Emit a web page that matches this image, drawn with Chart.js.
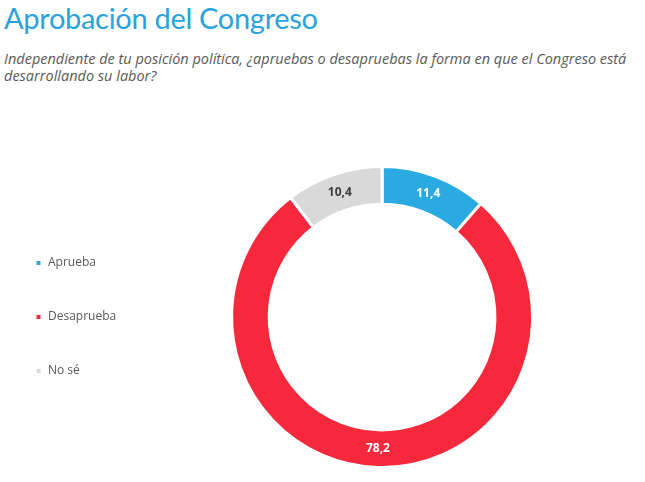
<!DOCTYPE html>
<html>
<head>
<meta charset="utf-8">
<script src="https://cdn.jsdelivr.net/npm/chart.js@4.4.0/dist/chart.umd.min.js"></script>
<style>
  html, body { margin: 0; padding: 0; background: #fff; }
  body { width: 645px; height: 482px; position: relative; overflow: hidden; }
  .title {
    position: absolute; left: 4px; top: 0px;
    font-family: Lato, sans-serif; font-size: 29px; color: #29a3db;
    letter-spacing: -0.3px;
  }
  .subtitle {
    position: absolute; left: 4px; top: 50px;
    font-family: "Open Sans", sans-serif; font-style: italic; font-size: 14.5px;
    line-height: 17px; color: #595959;
  }
  #wrap { position: absolute; left: 0; top: 0; width: 645px; height: 482px; }
</style>
</head>
<body>
<div class="title">Aprobación del Congreso</div>
<div class="subtitle">Independiente de tu posición política, ¿apruebas o desapruebas la forma en que el Congreso está<br>desarrollando su labor?</div>
<div id="wrap"><canvas id="chart"></canvas></div>
<script>
const categories = ['Aprueba', 'Desaprueba', 'No sé']
const values = [11.4, 78.2, 10.4]
const colors = ['#29abe2', '#f6283b', '#d9d9d9']
const labelColors = ['#ffffff', '#ffffff', '#404040']

// etiquetas con coma decimal dentro de cada segmento
const valueLabels = {
  id: 'valueLabels',
  afterDatasetsDraw(chart) {
    const ctx = chart.ctx
    const meta = chart.getDatasetMeta(0)
    ctx.save()
    ctx.font = 'bold 12px "Open Sans", sans-serif'
    ctx.textAlign = 'center'
    ctx.textBaseline = 'middle'
    meta.data.forEach((arc, i) => {
      const pos = arc.tooltipPosition()
      ctx.fillStyle = labelColors[i]
      ctx.fillText(values[i].toFixed(1).replace('.', ','), pos.x, pos.y)
    })
    ctx.restore()
  }
}

new Chart(document.getElementById('chart'), {
  type: 'doughnut',
  data: {
    labels: categories,
    datasets: [{
      data: values,
      backgroundColor: colors,
      borderColor: '#ffffff',
      borderWidth: 3,
    }],
  },
  options: {
    responsive: true,
    maintainAspectRatio: false,
    animation: false,
    cutout: '75%',
    layout: { padding: { top: 165, bottom: 13, left: -7, right: 7 } },
    plugins: {
      tooltip: { enabled: false },
      legend: {
        position: 'left',
        labels: {
          boxWidth: 7,
          boxHeight: 7,
          padding: 42,
          color: '#595959',
          font: { family: '"Open Sans", sans-serif', size: 12 },
        },
      },
    },
  },
  plugins: [valueLabels],
})
</script>
</body>
</html>
